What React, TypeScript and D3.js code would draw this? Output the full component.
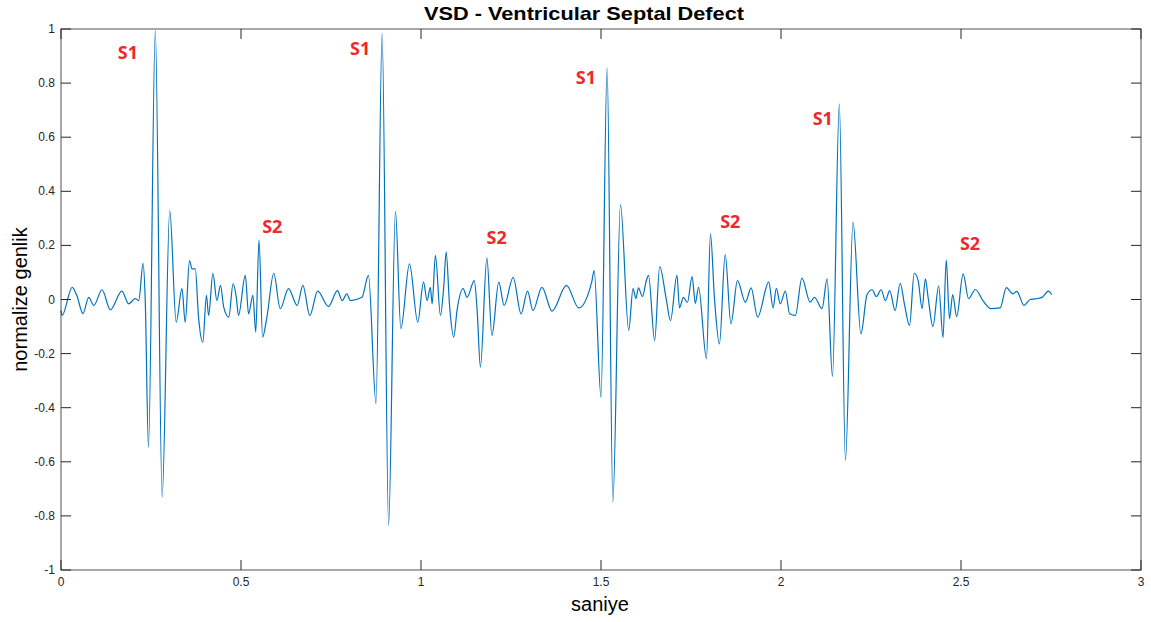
import React from "react";
import * as d3 from "d3";

// Phonocardiogram of a VSD case: time (s) and normalised amplitude
const timeSec = [
  0.000, 0.003, 0.031, 0.044, 0.061, 0.077, 0.091, 0.114, 0.137, 0.169,
  0.188, 0.206, 0.216, 0.228, 0.234, 0.243, 0.262, 0.281, 0.302, 0.320,
  0.336, 0.345, 0.357, 0.364, 0.373, 0.382, 0.394, 0.404, 0.410, 0.422,
  0.433, 0.443, 0.452, 0.466, 0.478, 0.487, 0.493, 0.512, 0.521, 0.533,
  0.541, 0.550, 0.560, 0.572, 0.591, 0.609, 0.632, 0.656, 0.672, 0.691,
  0.713, 0.743, 0.768, 0.781, 0.794, 0.804, 0.836, 0.854, 0.875, 0.892,
  0.910, 0.929, 0.944, 0.968, 0.991, 1.007, 1.017, 1.026, 1.031, 1.040,
  1.054, 1.063, 1.070, 1.079, 1.091, 1.100, 1.117, 1.128, 1.148, 1.156,
  1.165, 1.183, 1.197, 1.216, 1.231, 1.256, 1.278, 1.296, 1.311, 1.336,
  1.364, 1.404, 1.438, 1.475, 1.481, 1.500, 1.517, 1.533, 1.554, 1.577,
  1.589, 1.597, 1.604, 1.615, 1.626, 1.632, 1.649, 1.663, 1.681, 1.693,
  1.711, 1.718, 1.729, 1.740, 1.753, 1.762, 1.771, 1.793, 1.804, 1.815,
  1.829, 1.845, 1.861, 1.879, 1.901, 1.917, 1.935, 1.966, 1.978, 1.987,
  1.998, 2.012, 2.024, 2.040, 2.058, 2.081, 2.093, 2.114, 2.128, 2.143,
  2.162, 2.179, 2.200, 2.222, 2.239, 2.253, 2.265, 2.278, 2.290, 2.302,
  2.317, 2.331, 2.343, 2.357, 2.370, 2.381, 2.392, 2.401, 2.409, 2.422,
  2.438, 2.450, 2.459, 2.468, 2.477, 2.488, 2.506, 2.521, 2.540, 2.561,
  2.583, 2.609, 2.626, 2.644, 2.655, 2.675, 2.692, 2.706, 2.725, 2.743,
  2.752,
];

const amplitude = [
  -0.040, -0.059, 0.045, 0.015, -0.052, 0.008, -0.022, 0.036, -0.038, 0.031,
  -0.016, 0.003, -0.004, 0.134, -0.004, -0.546, 0.995, -0.730, 0.329, -0.084,
  0.040, -0.084, 0.144, 0.113, 0.113, -0.065, -0.158, 0.015, -0.059, 0.097,
  -0.004, 0.052, -0.028, -0.065, 0.058, 0.008, -0.059, 0.089, -0.053, 0.015,
  -0.121, 0.220, -0.139, -0.065, 0.097, -0.034, 0.040, -0.022, 0.052, -0.059,
  0.031, -0.026, 0.033, -0.004, 0.021, -0.004, 0.008, 0.089, -0.385, 0.984,
  -0.835, 0.326, -0.108, 0.132, -0.084, 0.064, -0.004, 0.045, -0.016, 0.163,
  -0.059, 0.045, 0.175, -0.016, -0.139, -0.041, 0.040, 0.008, 0.070, -0.041,
  -0.250, 0.154, -0.133, 0.064, -0.022, 0.082, -0.053, 0.031, -0.041, 0.045,
  -0.043, 0.052, -0.031, 0.070, 0.107, -0.361, 0.856, -0.749, 0.351, -0.114,
  0.040, 0.004, 0.043, 0.011, 0.070, 0.089, -0.151, 0.122, 0.003, -0.078,
  0.089, -0.031, 0.008, -0.011, 0.085, -0.014, 0.045, -0.219, 0.243, 0.008,
  -0.164, 0.166, -0.090, 0.070, -0.010, 0.043, -0.065, 0.064, -0.031, 0.041,
  -0.016, 0.031, -0.053, -0.059, 0.079, -0.010, 0.008, -0.034, 0.076, -0.284,
  0.723, -0.595, 0.286, -0.127, 0.018, 0.036, 0.011, 0.036, -0.004, 0.033,
  -0.041, 0.060, -0.018, -0.096, 0.097, 0.070, -0.034, 0.076, 0.004, -0.100,
  0.050, -0.141, 0.147, -0.071, 0.018, -0.063, 0.095, 0.003, 0.037, -0.004,
  -0.034, -0.031, 0.044, 0.021, 0.030, -0.022, 0.000, 0.002, 0.008, 0.031,
  0.018,
];

// Heart-sound annotations: label, time (s), amplitude where the label sits
const soundLabels = ["S1", "S2", "S1", "S2", "S1", "S2", "S1", "S2"];
const soundTimes = [0.186, 0.587, 0.831, 1.210, 1.458, 1.859, 2.116, 2.525];
const soundLevels = [0.912, 0.269, 0.927, 0.226, 0.820, 0.285, 0.668, 0.204];

const xTicks = [0, 0.5, 1, 1.5, 2, 2.5, 3];
const yTicks = [-1, -0.8, -0.6, -0.4, -0.2, 0, 0.2, 0.4, 0.6, 0.8, 1];

const W = 1151;
const H = 622;
const left = 61;
const right = 1141;
const top = 29;
const bottom = 570;

export default function App() {
  const x = d3.scaleLinear().domain([0, 3]).range([left, right]);
  const y = d3.scaleLinear().domain([-1, 1]).range([bottom, top]);

  const points: [number, number][] = timeSec.map((t, i) => [t, amplitude[i]]);
  const line = d3
    .line<[number, number]>()
    .x((d) => x(d[0]))
    .y((d) => y(d[1]))
    .curve(d3.curveMonotoneX);

  const axisColor = "#262626";
  const tickLen = 10;
  const font = "'Liberation Sans', Arial, Helvetica, sans-serif";

  return (
    <svg
      width={W}
      height={H}
      style={{ position: "absolute", left: 0, top: 0, background: "#fff" }}
    >
      <rect x={0} y={0} width={W} height={H} fill="#fff" />
      <path
        d={line(points) ?? ""}
        fill="none"
        stroke="#0072BD"
        strokeWidth={1.2}
        strokeLinejoin="round"
      />

      {/* box */}
      <rect
        x={left}
        y={top}
        width={right - left}
        height={bottom - top}
        fill="none"
        stroke={axisColor}
        strokeWidth={1}
        opacity={0.8}
      />

      {/* x ticks (bottom and top, inward) */}
      {xTicks.map((t) => (
        <g key={"x" + t}>
          <line x1={x(t)} x2={x(t)} y1={bottom} y2={bottom - tickLen} stroke={axisColor} />
          <line x1={x(t)} x2={x(t)} y1={top} y2={top + tickLen} stroke={axisColor} />
          <text
            x={x(t)}
            y={bottom + 16}
            textAnchor="middle"
            fontFamily={font}
            fontSize={12}
            fill={axisColor}
          >
            {String(t)}
          </text>
        </g>
      ))}

      {/* y ticks (left and right, inward) */}
      {yTicks.map((v) => (
        <g key={"y" + v}>
          <line x1={left} x2={left + tickLen} y1={y(v)} y2={y(v)} stroke={axisColor} />
          <line x1={right} x2={right - tickLen} y1={y(v)} y2={y(v)} stroke={axisColor} />
          <text
            x={left - 6}
            y={y(v) + 4}
            textAnchor="end"
            fontFamily={font}
            fontSize={12}
            fill={axisColor}
          >
            {String(v)}
          </text>
        </g>
      ))}

      {/* heart-sound markers */}
      {soundLabels.map((s, i) => (
        <text
          key={"s" + i}
          x={x(soundTimes[i])}
          y={y(soundLevels[i]) + 6}
          textAnchor="middle"
          fontFamily="'Open Sans', 'Noto Sans', sans-serif"
          fontWeight="bold"
          fontSize={18}
          fill="#f0282d"
        >
          {s}
        </text>
      ))}

      <text
        x={584}
        y={20}
        textAnchor="middle"
        fontFamily={font}
        fontWeight="bold"
        fontSize={19}
        textLength={320}
        lengthAdjust="spacingAndGlyphs"
        fill="#000"
      >
        VSD - Ventricular Septal Defect
      </text>
      <text
        x={600}
        y={611}
        textAnchor="middle"
        fontFamily={font}
        fontSize={20}
        fill="#000"
      >
        saniye
      </text>
      <text
        transform={`translate(27, ${y(0)}) rotate(-90)`}
        textAnchor="middle"
        fontFamily={font}
        fontSize={20}
        fill="#000"
      >
        normalize genlik
      </text>
    </svg>
  );
}
